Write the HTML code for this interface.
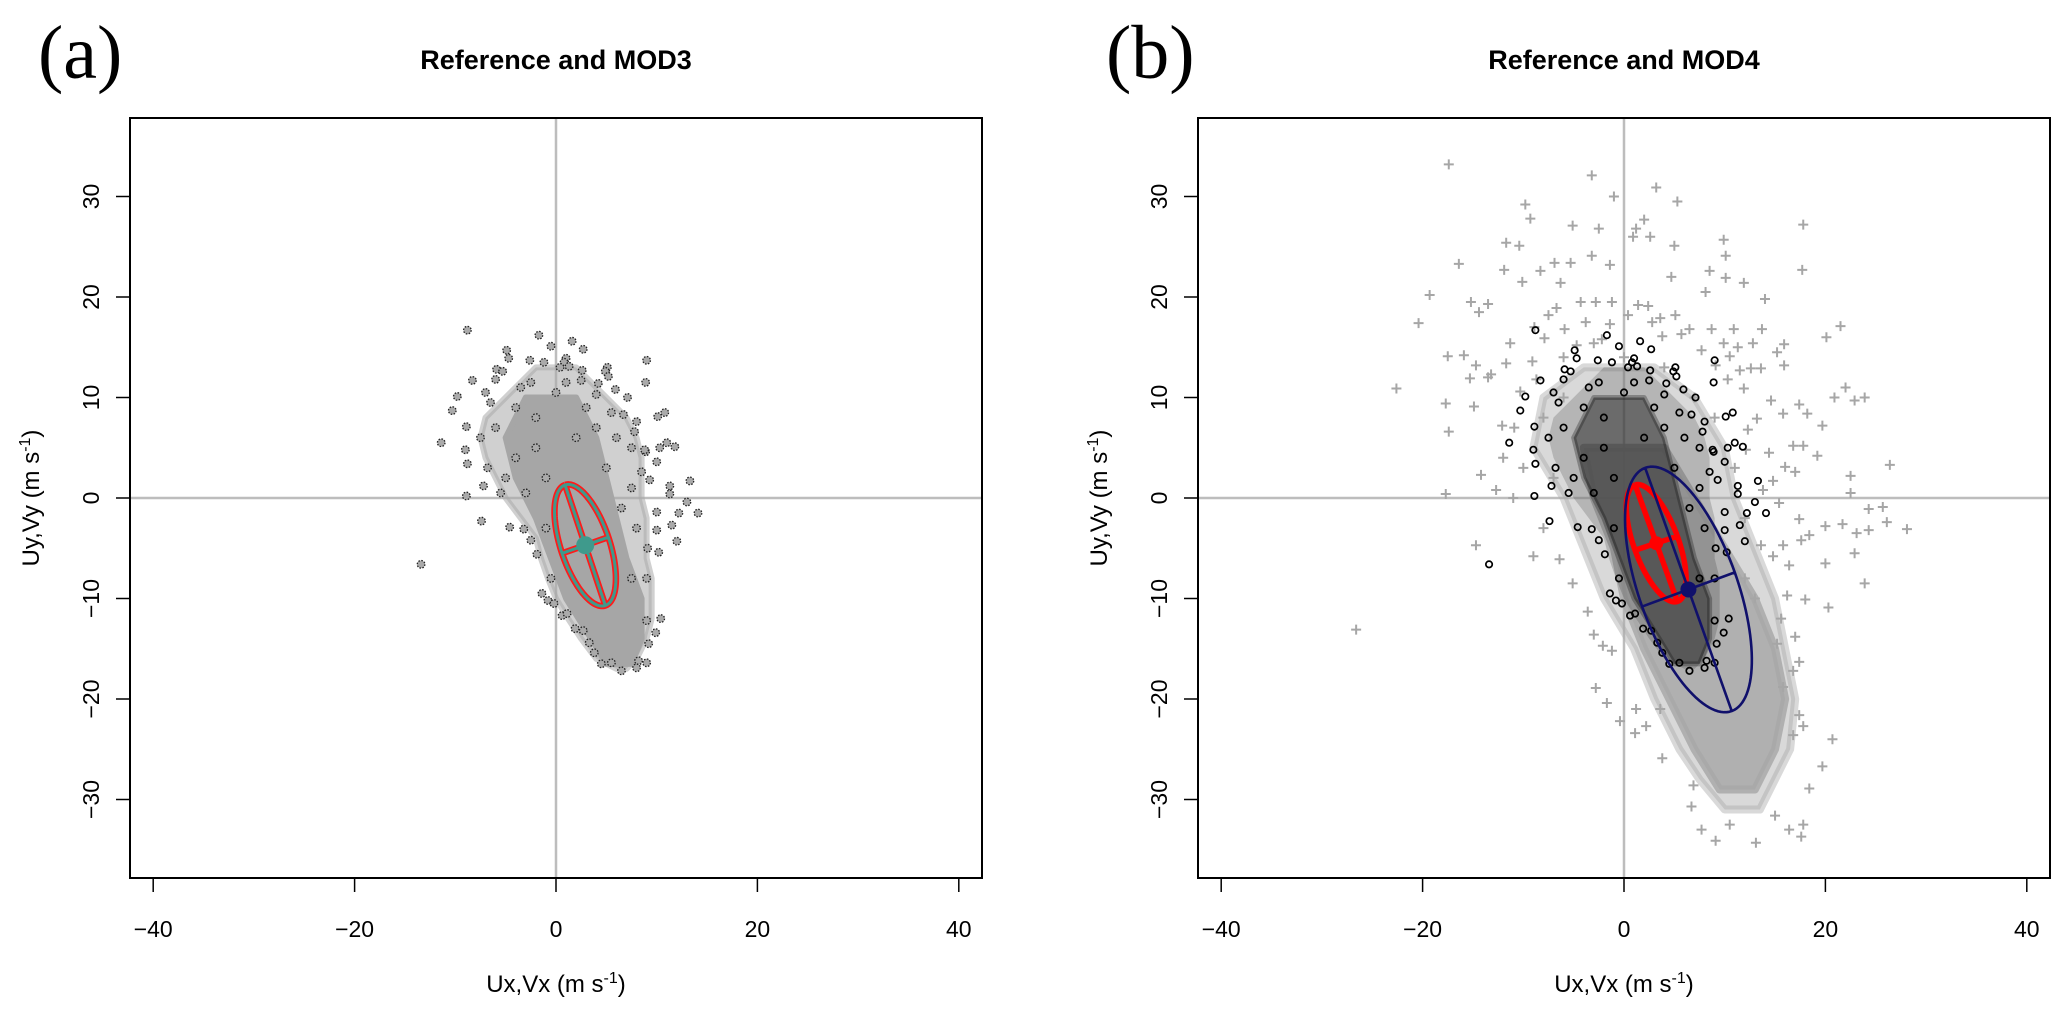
<!DOCTYPE html>
<html><head><meta charset="utf-8"><title>Reference vs MOD3 / MOD4 wind scatter</title>
<style>
html,body{margin:0;padding:0;background:#fff;}
svg{display:block;font-family:"Liberation Sans",sans-serif;}
</style></head>
<body>
<svg id="fig" width="2067" height="1013" viewBox="0 0 2067 1013" xmlns="http://www.w3.org/2000/svg"></svg>
<script>
// ---- data (m s-1) ----
const xTicks = [-40, -20, 0, 20, 40];
const yTicks = [-30, -20, -10, 0, 10, 20, 30];
// reference sparse points [u, v]
const refPoints = [[-8.8,16.7],[-1.7,16.2],[-0.5,15.1],[1.6,15.6],[2.7,14.8],[-4.9,14.7],[-4.7,13.9],[-2.6,13.7],[-1.2,13.5],[1,13.9],[0.8,13.5],[0.4,13],[1.3,13.1],[2.6,12.7],[5.1,13],[4.9,12.6],[5.2,12.1],[9,13.7],[8.9,11.5],[-5.9,12.8],[-5.3,12.6],[-6,11.8],[-8.3,11.7],[-9.8,10.1],[-10.3,8.7],[-11.4,5.5],[-8.9,7.1],[-8.8,3.4],[-9,4.8],[-7.2,1.2],[-8.9,0.2],[-7.4,-2.3],[-13.4,-6.6],[-4.6,-2.9],[-3.2,-3.1],[-2.5,-4.2],[-1.9,-5.6],[-1.4,-9.5],[-0.8,-10.2],[-0.2,-10.5],[0.6,-11.7],[1.1,-11.5],[1.9,-13],[2.7,-13.2],[3.3,-14.4],[3.8,-15.4],[4.5,-16.5],[5.5,-16.4],[6.5,-17.2],[8.2,-16.2],[9,-16.4],[8,-16.9],[9.2,-14.5],[9.9,-13.4],[10.4,-12],[9,-12.2],[10.2,-5.4],[9.1,-5],[12,-4.3],[10,-3.2],[11.5,-2.7],[12.2,-1.5],[14.1,-1.5],[13,-0.4],[13.3,1.7],[11.3,1.2],[11.3,0.4],[10,-1.4],[11,5.5],[10.3,5],[11.8,5.1],[10,3.6],[10.8,8.5],[10.1,8.1],[8.9,4.6],[7.1,10],[5.9,10.8],[4.2,11.4],[4,10.3],[2.5,11.7],[5.5,8.5],[6.7,8.3],[8,7.6],[7.8,6.6],[7.5,5],[8.8,4.8],[8.5,2.6],[9.3,1.8],[-3.5,11],[-2.5,11.5],[-6.5,9.5],[-7.5,6],[-6.8,3],[-5.5,0.5],[6.5,-1],[7.5,-8],[-0.5,-8],[-4,9],[-2,8],[0,10.5],[3,9],[6,6],[-6,7],[-4,4],[-2,5],[2,6],[5,3],[7.5,1],[-5,2],[-3,0.5],[-1,2],[8,-3],[9,-8],[-1,-3],[1,11.5],[-7,10.5],[4,7]];
// reference dense-core envelope (solid) and halo (mottled)
const refCoreY  = [10, 6, 2, -2, -6, -10, -14, -16.5];
const refCoreLo = [-3, -5, -4, -2, -0.5, 1, 3.5, 5];
const refCoreHi = [2, 4, 5, 6, 7, 8.5, 8.5, 7.5];
const refHaloY  = [13, 10, 8, 6, 4, 2, 0, -2, -4, -6, -8, -10, -12, -14, -16, -17];
const refHaloLo = [-2, -5, -7, -7.5, -7, -6, -5, -3.5, -2, -1.5, -0.8, 0, 1.2, 2.5, 4, 6];
const refHaloHi = [2, 5, 7, 8, 8.5, 8.5, 8.5, 9, 9, 9, 9.5, 9.5, 9.5, 9, 8, 7];
// MOD4 sparse points
const mod4Points = [[-17.4,33.2],[-3.2,32.1],[-1,30],[3.2,30.9],[5.3,29.5],[-9.8,29.2],[-9.3,27.8],[-5.1,27.1],[-2.5,26.8],[2,27.7],[1.2,26.8],[2.6,26],[0.9,26],[17.8,27.2],[-11.7,25.4],[-10.4,25.1],[-16.4,23.3],[-11.9,22.7],[5,25.1],[9.9,25.7],[10.1,24.1],[17.7,22.7],[-19.3,20.2],[-20.4,17.4],[-15.2,19.5],[-14.4,18.5],[-13.5,19.3],[-6.9,23.4],[-5.3,23.4],[-3.2,24.1],[-1.4,23.2],[-8.3,22.6],[-10.1,21.5],[-6.3,21.4],[4.7,22],[8.5,22.6],[10.1,21.9],[11.9,21.4],[8.1,20.5],[14,19.8],[21.5,17.1],[20.1,16],[15.9,15.3],[15.2,14.5],[15.9,13.2],[13.7,16.8],[12.8,15.4],[10.9,16.8],[9.9,15.4],[8.7,16.8],[13.6,12.9],[11.5,12.7],[10.3,11.8],[11.9,10.9],[22,11],[20.9,10],[23.9,10],[22.9,9.7],[17.4,9.3],[18.2,8.4],[19.7,7.2],[19.2,4.2],[17.8,5.2],[16.8,5.2],[26.4,3.3],[22.5,2.2],[22.5,0.5],[24.3,-1.1],[25.7,-0.9],[26.1,-2.4],[28.1,-3.1],[24.3,-3.2],[23.1,-3.5],[21.7,-2.6],[20,-2.8],[22.9,-5.5],[20,-6.5],[23.9,-8.5],[20.3,-10.9],[20.7,-24],[19.7,-26.7],[18.4,-28.9],[17.6,-33.7],[17.8,-32.5],[16.4,-33],[13.1,-34.3],[15,-31.6],[9.1,-34.1],[7.7,-33],[10.5,-32.5],[6.7,-30.7],[6.9,-28.6],[3.8,-25.9],[2.2,-22.7],[1.1,-23.4],[3.6,-21],[1.2,-21],[-0.4,-22.2],[-1.7,-20.4],[-2.8,-18.9],[-2.1,-14.7],[-1.2,-15.2],[-3,-13.6],[-3.6,-11.3],[-5.1,-8.5],[-6.4,-6.1],[-9,-5.8],[-14.7,-4.7],[-26.6,-13.1],[-22.6,10.9],[-17.7,9.4],[-17.4,6.6],[-17.7,0.4],[-17.5,14.1],[-15.9,14.2],[-14.2,2.3],[-12.7,0.8],[-14.9,9.1],[-15.3,11.9],[-14.7,13.2],[-13.2,12.3],[-11.3,15.4],[-11.7,13.4],[-13.5,12],[-12.1,7.2],[-10.9,7],[-8.9,17],[-7.9,15.9],[-9.1,13.6],[-10.3,10.6],[-8.7,11.8],[-5.9,16.8],[-4.7,15.2],[-3,15.4],[-2.2,15.8],[-1.4,17.3],[-3.8,17.5],[-6.7,18.9],[-7.5,18.2],[-4.3,19.5],[-2.8,19.5],[-1.2,19.5],[0.4,18.2],[1.4,19.2],[2.4,19.1],[2.8,17.5],[3.6,17.9],[5.1,18.2],[6.5,16.8],[5.7,16.3],[3.8,16.1],[7.7,14.7],[9.1,13.2],[10.5,14.1],[11.3,15],[12.6,12.9],[14.6,9.7],[15.8,8.4],[13.2,7.9],[12.3,6.8],[12.1,4.8],[14.4,4.5],[16,3.1],[17,2.6],[14.8,1.7],[13.8,0.8],[15.4,-0.5],[17.4,-2.1],[18.4,-3.7],[15.8,-4.7],[13.6,-4.7],[14.8,-5.8],[16.4,-6.7],[17.6,-4.2],[16.2,-9.7],[18,-10.1],[15.6,-12],[17,-13.8],[15.2,-14.5],[17.4,-16.3],[16.8,-17.2],[15.8,-18.8],[17.4,-21.6],[17.8,-22.7],[16.8,-23.6],[-8,8],[-6,10],[-10,3],[-7,2],[-11,0],[-8,-3],[7,10],[9,8],[11,3],[12,-2],[-6,14],[0,14],[4,13],[-12,4],[12,-8],[13,-10]];
// MOD4 dense-core envelope (solid) and halo
const modCoreY  = [5, 0, -5, -10, -15, -20, -25, -29];
const modCoreLo = [-4, -3, -1, 0, 2, 4.5, 7, 9.5];
const modCoreHi = [4, 7, 10, 13, 15, 16, 15, 13];
const modHaloY  = [13, 10, 5, 0, -5, -10, -15, -20, -25, -28, -31];
const modHaloLo = [-4, -8, -9, -6, -4, -2, 1, 3, 5.5, 7.5, 10];
const modHaloHi = [3, 7, 10, 11, 13, 15, 16, 17, 16.5, 15, 13.5];
// ellipses: center, major-axis end, minor-axis end
const mod3Ell = {c:[2.9,-4.7], a:[0.9,1.3], b:[5.2,-3.9]};
const refEll  = {c:[3.2,-4.5], a:[1.1,1.3], b:[5.3,-3.8]};
const mod4Ell = {c:[6.4,-9.1], a:[2.1,3.0], b:[11.0,-7.4]};

const NS = "http://www.w3.org/2000/svg";
const svg = document.getElementById('fig');
function mk(tag, attrs, parent){ const e=document.createElementNS(NS,tag); for(const k in attrs) e.setAttribute(k,attrs[k]); (parent||svg).appendChild(e); return e; }

const Y0 = 498, XS = 10.07, YS = 10.05, HALFW = 426, HALFH = 380;

function panel(x0, id, title, letter){
  const g = mk('g', {});
  
  
  const sx = v => x0 + v*XS;
  const sy = v => Y0 - v*YS;
  const L = x0-HALFW, R = x0+HALFW, T = Y0-HALFH, B = Y0+HALFH;
  const clipId = 'clip-'+id;
  const cp = mk('clipPath', {id:clipId}, g);
  mk('rect', {x:L, y:T, width:R-L, height:B-T}, cp);
  const plot = mk('g', {'clip-path':'url(#'+clipId+')'}, g);
  
  
  const zx = mk('line', {x1:L, x2:R, y1:sy(0), y2:sy(0), stroke:'#bdbdbd', 'stroke-width':2.5}, plot);
  
  
  const zy = mk('line', {x1:sx(0), x2:sx(0), y1:T, y2:B, stroke:'#bdbdbd', 'stroke-width':2.5}, plot);
  
  
  const fr = mk('rect', {x:L, y:T, width:R-L, height:B-T, fill:'none', stroke:'#000', 'stroke-width':2}, g);
  
  
  xTicks.forEach(t => {
    const tl = mk('line', {x1:sx(t), x2:sx(t), y1:B, y2:B+14, stroke:'#000', 'stroke-width':1.5}, g);
    
    
    const tx = mk('text', {x:sx(t), y:937, 'text-anchor':'middle', 'font-size':23}, g);
    tx.textContent = String(t).replace('-', '\u2212');
    
    
  });
  yTicks.forEach(t => {
    const tl = mk('line', {x1:L-14, x2:L, y1:sy(t), y2:sy(t), stroke:'#000', 'stroke-width':1.5}, g);
    
    
    const tx = mk('text', {x:0, y:0, 'text-anchor':'middle', 'font-size':23, transform:'translate('+(L-31)+','+sy(t)+') rotate(-90)'}, g);
    tx.textContent = String(t).replace('-', '\u2212');
    
    
  });
  const xt = mk('text', {x:x0, y:992, 'text-anchor':'middle', 'font-size':24}, g);
  xt.innerHTML = 'Ux,Vx (m s<tspan dy="-9" font-size="16">-1</tspan><tspan dy="9">)</tspan>';
  
  
  const yt = mk('text', {x:0, y:0, 'text-anchor':'middle', 'font-size':24, transform:'translate('+(L-91)+','+Y0+') rotate(-90)'}, g);
  yt.innerHTML = 'Uy,Vy (m s<tspan dy="-9" font-size="16">-1</tspan><tspan dy="9">)</tspan>';
  
  
  const tt = mk('text', {x:x0, y:69, 'text-anchor':'middle', 'font-size':27, 'font-weight':'bold'}, g);
  tt.textContent = title;
  
  
  const lt = mk('text', {x:L-92, y:78, 'font-size':76, 'font-family':'"Liberation Serif", serif'}, g);
  lt.textContent = letter;
  
  
  return {plot, sx, sy};
}

function envelope(p, by, lo, hi, attrs, name){
  let d = '';
  by.forEach((y,i) => { d += (i? 'L':'M') + p.sx(lo[i]) + ',' + p.sy(y); });
  for (let i = by.length-1; i >= 0; i--) d += 'L' + p.sx(hi[i]) + ',' + p.sy(by[i]);
  const e = mk('path', Object.assign({d:d+'Z', 'stroke-linejoin':'round'}, attrs), p.plot);
  
  
}

function ellipse(p, E, color, lw, name){
  const c=E.c, a=[E.a[0]-c[0], E.a[1]-c[1]], b=[E.b[0]-c[0], E.b[1]-c[1]];
  let d='';
  for (let i=0;i<=120;i++){ const t=i/120*2*Math.PI;
    d += (i?'L':'M') + p.sx(c[0]+a[0]*Math.cos(t)+b[0]*Math.sin(t)) + ',' + p.sy(c[1]+a[1]*Math.cos(t)+b[1]*Math.sin(t)); }
  d += 'M'+p.sx(c[0]+a[0])+','+p.sy(c[1]+a[1])+'L'+p.sx(c[0]-a[0])+','+p.sy(c[1]-a[1]);
  d += 'M'+p.sx(c[0]+b[0])+','+p.sy(c[1]+b[1])+'L'+p.sx(c[0]-b[0])+','+p.sy(c[1]-b[1]);
  const e = mk('path', {d:d, fill:'none', stroke:color, 'stroke-width':lw, 'stroke-linejoin':'round'}, p.plot);
  
  
}
function centerDot(p, E, color, r, name){
  const e = mk('circle', {cx:p.sx(E.c[0]), cy:p.sy(E.c[1]), r:r, fill:color}, p.plot);
  
  
}

// ---- panel a ----
const pa = panel(556, 'a', 'Reference and MOD3', '(a)');
envelope(pa, refHaloY, refHaloLo, refHaloHi, {fill:'#aaaaaa', 'fill-opacity':0.55, stroke:'#aaaaaa', 'stroke-opacity':0.55, 'stroke-width':6}, 'reference-halo');
envelope(pa, refCoreY, refCoreLo, refCoreHi, {fill:'#a6a6a6', stroke:'#a6a6a6', 'stroke-width':6}, 'reference-dense-core');
refPoints.forEach(pt => {
  const c = mk('circle', {cx:pa.sx(pt[0]), cy:pa.sy(pt[1]), r:3.8, fill:'#aaaaaa', stroke:'#222', 'stroke-width':1.3, 'stroke-dasharray':'1.6 1.4'}, pa.plot);
  
  
});
ellipse(pa, mod3Ell, '#ff1a1a', 6.5, 'mod3-ellipse-outline');
ellipse(pa, mod3Ell, '#3f9a8c', 3, 'mod3-ellipse');
centerDot(pa, mod3Ell, '#3f9a8c', 9, 'mod3-center');

// ---- panel b ----
const pb = panel(1624, 'b', 'Reference and MOD4', '(b)');
envelope(pb, modHaloY, modHaloLo, modHaloHi, {fill:'#aaaaaa', 'fill-opacity':0.45, stroke:'#aaaaaa', 'stroke-opacity':0.45, 'stroke-width':8}, 'mod4-halo');
envelope(pb, modCoreY, modCoreLo, modCoreHi, {fill:'#a8a8a8', 'fill-opacity':0.85, stroke:'#a8a8a8', 'stroke-opacity':0.85, 'stroke-width':8}, 'mod4-dense-core');
envelope(pb, refHaloY, refHaloLo, refHaloHi, {fill:'#111', 'fill-opacity':0.18, stroke:'none'}, 'reference-halo');
envelope(pb, refCoreY, refCoreLo, refCoreHi, {fill:'#111', 'fill-opacity':0.45, stroke:'#111', 'stroke-opacity':0.3, 'stroke-width':5}, 'reference-dense-core');
mod4Points.forEach(pt => {
  const x=pb.sx(pt[0]), y=pb.sy(pt[1]);
  const c = mk('path', {d:'M'+(x-5)+','+y+'H'+(x+5)+'M'+x+','+(y-5)+'V'+(y+5), stroke:'#a6a6a6', 'stroke-width':2}, pb.plot);
  
  
});
refPoints.forEach(pt => {
  const c = mk('circle', {cx:pb.sx(pt[0]), cy:pb.sy(pt[1]), r:3.2, fill:'none', stroke:'#000', 'stroke-width':1.7}, pb.plot);
  
  
});
ellipse(pb, refEll, '#ff0000', 5.5, 'reference-ellipse');
centerDot(pb, refEll, '#ff0000', 7, 'reference-center');
ellipse(pb, mod4Ell, '#10106b', 2.6, 'mod4-ellipse');
centerDot(pb, mod4Ell, '#10106b', 8, 'mod4-center');
</script>
</body></html>
